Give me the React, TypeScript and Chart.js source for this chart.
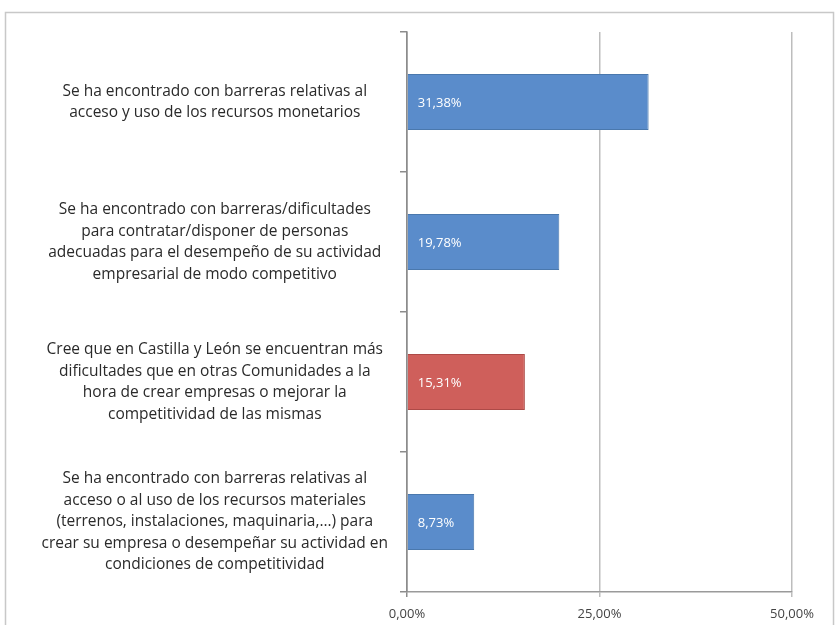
import React, { useEffect, useRef } from "react";
import { Chart, registerables } from "chart.js";

Chart.register(...registerables);

const categories: string[][] = [
  ["Se ha encontrado con barreras relativas al", "acceso y uso de los recursos monetarios"],
  [
    "Se ha encontrado con barreras/dificultades",
    "para contratar/disponer de personas",
    "adecuadas para el desempeño de su actividad",
    "empresarial de modo competitivo",
  ],
  [
    "Cree que en Castilla y León se encuentran más",
    "dificultades que en otras Comunidades a la",
    "hora de crear empresas o mejorar la",
    "competitividad de las mismas",
  ],
  [
    "Se ha encontrado con barreras relativas al",
    "acceso o al uso de los recursos materiales",
    "(terrenos, instalaciones, maquinaria,…) para",
    "crear su empresa o desempeñar su actividad en",
    "condiciones de competitividad",
  ],
];
const values: number[] = [31.38, 19.78, 15.31, 8.73];
const barColors: string[] = ["#5a8ccb", "#5a8ccb", "#cf5f5b", "#5a8ccb"];
const barBorders: string[] = ["#4a78ad", "#4a78ad", "#ad4a47", "#4a78ad"];
const xTicks: number[] = [0, 25, 50];

const fmt = (v: number) => v.toFixed(2).replace(".", ",") + "%";
const FONT = "'Open Sans', Lato, sans-serif";

const framePlugin = {
  id: "frame",
  beforeDraw(chart: any) {
    const c = chart.ctx;
    c.save();
    c.fillStyle = "#ffffff";
    c.fillRect(0, 0, chart.width, chart.height);
    c.strokeStyle = "#c8c8c8";
    c.lineWidth = 1.5;
    c.strokeRect(5.5, 12.5, chart.width - 9, chart.height + 20);
    c.restore();
  },
};

const labelPlugin = {
  id: "barLabels",
  afterDatasetsDraw(chart: any) {
    const c = chart.ctx;
    const meta = chart.getDatasetMeta(0);
    c.save();
    c.fillStyle = "#ffffff";
    c.font = "13px " + FONT;
    c.textAlign = "left";
    c.textBaseline = "middle";
    meta.data.forEach((el: any, i: number) => {
      c.fillText(fmt(values[i]), el.base + 10, el.y + 1);
    });
    c.restore();
  },
};

export default function App() {
  const ref = useRef<HTMLCanvasElement | null>(null);
  useEffect(() => {
    if (!ref.current) return;
    const chart = new Chart(ref.current, {
      type: "bar",
      data: {
        labels: categories,
        datasets: [
          {
            data: values,
            backgroundColor: barColors,
            borderColor: barBorders,
            borderWidth: 1,
            categoryPercentage: 0.4,
            barPercentage: 1,
          },
        ],
      },
      plugins: [framePlugin, labelPlugin],
      options: {
        indexAxis: "y",
        animation: false,
        responsive: false,
        maintainAspectRatio: false,
        layout: { padding: { left: 0, right: 45, top: 32, bottom: 0 } },
        plugins: { legend: { display: false }, tooltip: { enabled: false } },
        scales: {
          x: {
            min: 0,
            max: 50,
            afterBuildTicks: (s: any) => {
              s.ticks = xTicks.map((v) => ({ value: v }));
            },
            afterFit: (s: any) => {
              s.height = 33;
              s.paddingLeft = 0;
              s.paddingRight = 0;
            },
            ticks: {
              callback: (v: any) => fmt(Number(v)),
              color: "#444444",
              font: { family: FONT, size: 13 },
              padding: 9,
              maxRotation: 0,
            },
            grid: {
              color: (ctx: any) => (ctx.tick && ctx.tick.value === 0 ? "#8c8c8c" : "#bdbdbd"),
              lineWidth: 1.5,
              tickLength: 5,
            },
            border: { color: "#9a9a9a", width: 1.5 },
          },
          y: {
            afterFit: (s: any) => {
              s.width = 407;
              s.paddingTop = 0;
              s.paddingBottom = 0;
            },
            ticks: {
              crossAlign: "center",
              color: "#2a2a2a",
              font: { family: FONT, size: 15.5, lineHeight: "21.5px" },
              padding: 12,
              autoSkip: false,
            },
            grid: {
              drawOnChartArea: false,
              color: "#8c8c8c",
              lineWidth: 1.5,
              tickLength: 7,
              offset: true,
            },
            border: { color: "#8c8c8c", width: 1.5 },
          },
        },
      },
    } as any);
    return () => chart.destroy();
  }, []);
  return (
    <div style={{ position: "fixed", left: 0, top: 0, width: 837, height: 625 }}>
      <canvas ref={ref} width={837} height={625} style={{ display: "block", width: 837, height: 625 }} />
    </div>
  );
}
